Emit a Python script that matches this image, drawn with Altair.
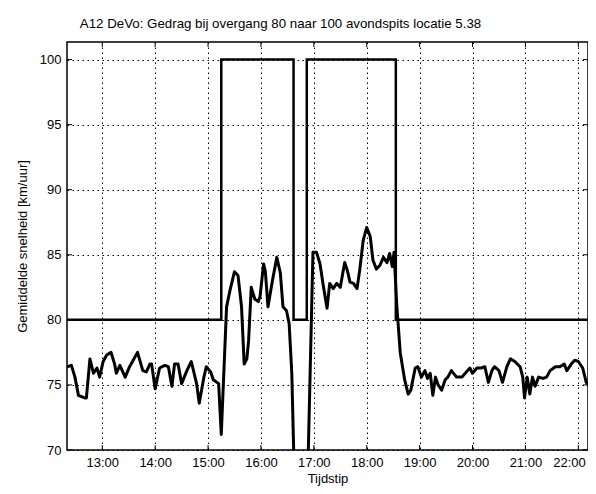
import altair as alt
import pandas as pd

DAY = "2000-01-01T"

times = [
    "12:20", "12:25", "12:29", "12:33", "12:40", "12:42", "12:46", "12:50", "12:54", "12:57",
    "13:01", "13:05", "13:10", "13:14", "13:16", "13:20", "13:26", "13:31", "13:40", "13:46",
    "13:50", "13:54", "13:56", "14:00", "14:05", "14:11", "14:15", "14:19", "14:22", "14:26",
    "14:30", "14:36", "14:41", "14:47", "14:50", "14:55", "14:58", "15:03", "15:06", "15:12",
    "15:15", "15:21", "15:25", "15:30", "15:34", "15:38", "15:41", "15:44", "15:46", "15:49",
    "15:53", "15:57", "15:59", "16:03", "16:05", "16:08", "16:13", "16:18", "16:22", "16:25",
    "16:29", "16:32", "16:35", "16:40", "16:51", "16:59",
    "17:03", "17:07", "17:11", "17:15", "17:18", "17:22", "17:26", "17:30", "17:35", "17:38",
    "17:41", "17:45", "17:49", "17:52", "17:56", "18:00", "18:04", "18:07", "18:11", "18:15",
    "18:19", "18:23", "18:26", "18:29", "18:31", "18:34", "18:38", "18:43", "18:47", "18:50",
    "18:55", "18:58", "19:02", "19:06", "19:09", "19:12", "19:15", "19:18", "19:21", "19:25",
    "19:29", "19:32", "19:36", "19:42", "19:48", "19:53", "19:57", "20:00", "20:05", "20:10",
    "20:14", "20:18", "20:22", "20:25", "20:30", "20:34", "20:39", "20:43", "20:48", "20:54",
    "20:57", "20:59", "21:02", "21:05", "21:08", "21:11", "21:15", "21:20", "21:24", "21:28",
    "21:34", "21:39", "21:44", "21:47", "21:52", "21:56", "22:00", "22:05", "22:09", "22:13",
    "22:18",
]
speeds = [
    76.4, 76.5, 75.6, 74.2, 74.0, 74.0, 77.0, 75.9, 76.3, 75.6,
    76.8, 77.3, 77.5, 76.6, 75.9, 76.5, 75.6, 76.4, 77.5, 76.1,
    76.0, 76.6, 76.6, 74.7, 76.3, 76.5, 76.4, 74.9, 76.6, 76.6,
    75.1, 76.1, 76.8, 75.1, 73.6, 75.5, 76.4, 76.0, 75.4, 75.1,
    71.2, 81.0, 82.3, 83.7, 83.4, 81.0, 76.6, 77.0, 78.4, 82.5,
    81.6, 81.4, 81.8, 84.3, 83.7, 81.0, 83.0, 84.8, 83.6, 81.0,
    80.7, 79.7, 75.9, 62.0, 62.0, 85.2,
    85.2, 84.3, 82.5, 80.9, 82.8, 82.4, 82.8, 82.5, 84.4, 83.8,
    82.9, 82.8, 82.4, 83.8, 86.1, 87.1, 86.4, 84.6, 83.9, 84.2,
    84.8, 84.4, 85.1, 84.1, 85.2, 81.2, 77.5, 75.4, 74.3, 74.6,
    76.3, 76.4, 75.6, 76.1, 75.5, 75.9, 74.2, 75.6, 75.0, 74.6,
    75.4, 75.6, 76.1, 75.6, 75.6, 76.0, 76.3, 75.9, 76.3, 76.3,
    76.4, 75.2, 76.1, 76.4, 76.1, 75.2, 76.4, 77.0, 76.8, 76.4,
    75.6, 74.0, 75.6, 74.3, 75.6, 74.9, 75.6, 75.5, 75.6, 76.1,
    76.4, 76.4, 76.6, 76.1, 76.6, 76.9, 76.8, 76.3, 75.2, 74.9,
    75.4,
]

# speed limit (step line)
limit_times = ["12:20", "15:15", "16:37", "16:52", "18:33", "22:18"]
limit_values = [80, 100, 80, 100, 80, 80]

hour_ticks = ["13:00", "14:00", "15:00", "16:00", "17:00", "18:00", "19:00", "20:00", "21:00", "22:00"]
speed_ticks = [70, 75, 80, 85, 90, 95, 100]

FONT = "Liberation Sans"
W, H = 521, 408


def ts(t):
    return DAY + t + ":00"


def dt(t):
    h, m = t.split(":")
    return alt.DateTime(year=2000, month=1, date=1, hours=int(h), minutes=int(m))


speed_df = pd.DataFrame({"t": [ts(t) for t in times], "v": speeds})
limit_df = pd.DataFrame({"t": [ts(t) for t in limit_times], "v": limit_values})
xtick_df = pd.DataFrame({"t": [ts(t) for t in hour_ticks]})
ytick_df = pd.DataFrame({"v": speed_ticks})

x_scale = alt.Scale(domain=[dt("12:20"), dt("22:11")], nice=False)
y_scale = alt.Scale(domain=[70, 101.35], nice=False, zero=False)

x_axis = alt.Axis(
    title="Tijdstip", format="%H:%M", values=[dt(t) for t in hour_ticks],
    grid=True, gridDash=[1.5, 3.5], gridColor="black", gridOpacity=1, gridWidth=1,
    ticks=False, domain=False, labelFontSize=13, labelColor="black", labelFont=FONT,
    labelPadding=6, titleFont=FONT, titleFontSize=13, titleFontWeight="normal",
    titleColor="black", titlePadding=3, labelFlush=15, labelFlushOffset=7,
)
y_axis = alt.Axis(
    title="Gemiddelde snelheid [km/uur]", values=speed_ticks,
    grid=True, gridDash=[1.5, 3.5], gridColor="black", gridOpacity=1, gridWidth=1,
    ticks=False, domain=False, labelFontSize=13, labelColor="black", labelFont=FONT,
    labelPadding=6, titleFont=FONT, titleFontSize=13, titleFontWeight="normal",
    titleColor="black", titlePadding=10,
)

X = alt.X("t:T", scale=x_scale, axis=x_axis)
Y = alt.Y("v:Q", scale=y_scale, axis=y_axis)

speed_line = alt.Chart(speed_df).mark_line(
    color="black", strokeWidth=3, clip=True, strokeJoin="round"
).encode(x=X, y=Y)

limit_line = alt.Chart(limit_df).mark_line(
    color="black", strokeWidth=2.5, interpolate="step-after", clip=True
).encode(x=X, y=Y)

tick_bottom = alt.Chart(xtick_df).mark_rule(color="black", strokeWidth=1).encode(
    x=X, y=alt.value(H - 5), y2=alt.value(H)
)
tick_top = alt.Chart(xtick_df).mark_rule(color="black", strokeWidth=1).encode(
    x=X, y=alt.value(0), y2=alt.value(5)
)
tick_left = alt.Chart(ytick_df).mark_rule(color="black", strokeWidth=1).encode(
    y=Y, x=alt.value(0), x2=alt.value(5)
)
tick_right = alt.Chart(ytick_df).mark_rule(color="black", strokeWidth=1).encode(
    y=Y, x=alt.value(W - 5), x2=alt.value(W)
)

chart = alt.layer(
    speed_line, limit_line, tick_bottom, tick_top, tick_left, tick_right
).properties(
    width=W, height=H,
    title=alt.TitleParams(
        text="A12 DeVo: Gedrag bij overgang 80 naar 100 avondspits locatie 5.38",
        font=FONT, fontSize=13.3, fontWeight="normal", color="black",
        anchor="middle", offset=11, dx=-47,
    ),
    autosize=alt.AutoSizeParams(type="none"),
    padding={"left": 59, "top": 34, "right": 0, "bottom": 36},
    background="white",
).configure_view(stroke="black", strokeWidth=1.5)

chart.save("out.html", embed_options={"renderer": "svg", "actions": False})
